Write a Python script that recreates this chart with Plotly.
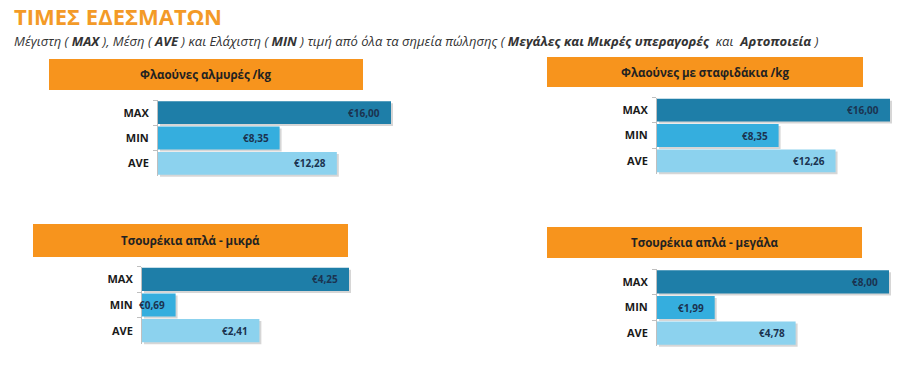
import plotly.graph_objects as go

# ---- data ----
categories = ["MAX", "MIN", "AVE"]
panel_titles = [
    "Φλαούνες αλμυρές /kg",
    "Φλαούνες με σταφιδάκια /kg",
    "Τσουρέκια απλά - μικρά",
    "Τσουρέκια απλά - μεγάλα",
]
flaounes_almyres = [16.00, 8.35, 12.28]
flaounes_stafidakia = [16.00, 8.35, 12.26]
tsourekia_mikra = [4.25, 0.69, 2.41]
tsourekia_megala = [8.00, 1.99, 4.78]
series = [flaounes_almyres, flaounes_stafidakia, tsourekia_mikra, tsourekia_megala]

title_text = "ΤΙΜΕΣ ΕΔΕΣΜΑΤΩΝ"
subtitle_text = ("Μέγιστη ( <b>MAX</b> ), Μέση ( <b>AVE</b> ) και Ελάχιστη ( <b>MIN</b> ) "
                 "τιμή από όλα τα σημεία πώλησης ( <b>Μεγάλες και Μικρές υπεραγορές</b>  και  <b>Αρτοποιεία</b> )")

# ---- style / layout ----
W, H = 900, 377
FONT = "Open Sans"
bar_colors = ["#1E7EA8", "#35AEDE", "#8CD2EE"]
shadow_color = "rgba(0,0,0,0.16)"
orange = "#F7941D"
SH = 2  # shadow offset, px

def px(x):
    return x / W

def py(y):
    return 1 - y / H

# plot areas (left, right, top, bottom) in pixels
areas = [
    (158, 391, 100, 176),
    (657, 890, 97.5, 173.5),
    (142, 349, 266.5, 343.5),
    (657, 889, 269, 346),
]
# header boxes (left, right, top, bottom)
headers = [
    (49, 363, 59, 90),
    (547, 863, 57, 87),
    (33, 348, 224, 257),
    (547, 862, 227, 258),
]

fig = go.Figure()
annotations = []
shapes = []

# shadow subplots first (axes 1..4) so they sit beneath the main bars
for i, (vals, area) in enumerate(zip(series, areas)):
    n = "" if i == 0 else str(i + 1)
    xa, ya = "x" + n, "y" + n
    fig.add_trace(go.Bar(
        x=vals, y=categories, orientation="h",
        marker=dict(color=shadow_color, line=dict(width=0)),
        xaxis=xa, yaxis=ya, showlegend=False, hoverinfo="skip",
    ))
    l, r, t, b = area
    fig.layout["xaxis" + n] = dict(
        domain=[px(l + SH), px(r + SH)], range=[0, max(vals)], anchor=ya,
        visible=False, fixedrange=True,
    )
    fig.layout["yaxis" + n] = dict(
        domain=[py(b + SH), py(t + SH)], anchor=xa,
        categoryorder="array", categoryarray=categories, autorange="reversed",
        visible=False, fixedrange=True,
    )

# main subplots (axes 5..8)
for i, (vals, area, hdr, ttl) in enumerate(zip(series, areas, headers, panel_titles)):
    n = str(i + 5)
    xa, ya = "x" + n, "y" + n
    fig.add_trace(go.Bar(
        x=vals, y=categories, orientation="h",
        marker=dict(color=bar_colors, line=dict(width=0)),
        xaxis=xa, yaxis=ya, showlegend=False, hoverinfo="skip",
    ))
    l, r, t, b = area
    fig.layout["xaxis" + n] = dict(
        domain=[px(l), px(r)], range=[0, max(vals)], anchor=ya,
        visible=False, fixedrange=True,
    )
    fig.layout["yaxis" + n] = dict(
        domain=[py(b), py(t)], anchor=xa,
        categoryorder="array", categoryarray=categories, autorange="reversed",
        showline=True, linecolor="#BFBFBF", linewidth=1,
        ticks="outside", tickson="boundaries", ticklen=4, tickcolor="#BFBFBF",
        ticklabelstandoff=6,
        tickfont=dict(family=FONT, size=11, color="#1a1a1a", weight="bold"),
        showgrid=False, zeroline=False, fixedrange=True,
    )
    for c, v in zip(categories, vals):
        annotations.append(dict(
            x=v, y=c, xref=xa, yref=ya, xanchor="right", xshift=-9,
            text="€" + f"{v:.2f}".replace(".", ","), showarrow=False,
            font=dict(family=FONT, size=10, color="#1B3350", weight="bold"),
        ))
    hl, hr, ht, hb = hdr
    shapes.append(dict(
        type="rect", xref="paper", yref="paper",
        x0=px(hl), x1=px(hr), y0=py(hb), y1=py(ht),
        fillcolor=orange, line=dict(width=0), layer="below",
    ))
    annotations.append(dict(
        x=px((hl + hr) / 2), y=py((ht + hb) / 2), xref="paper", yref="paper",
        xanchor="center", yanchor="middle", text="<b>" + ttl + "</b>", showarrow=False,
        font=dict(family=FONT, size=11.5, color="#222222"),
    ))

annotations.append(dict(
    x=px(12), y=py(16.5), xref="paper", yref="paper", xanchor="left", yanchor="middle",
    text="<b>" + title_text + "</b>", showarrow=False,
    font=dict(family=FONT, size=22, color="#F39A27"),
))
annotations.append(dict(
    x=px(12), y=py(41), xref="paper", yref="paper", xanchor="left", yanchor="middle",
    text="<i>" + subtitle_text + "</i>", showarrow=False,
    font=dict(family=FONT, size=13, color="#333333"),
))

fig.update_layout(
    width=W, height=H,
    margin=dict(l=0, r=0, t=0, b=0),
    paper_bgcolor="white", plot_bgcolor="rgba(0,0,0,0)",
    bargap=0.1,
    annotations=annotations, shapes=shapes,
)

fig.write_html("out.html", config={"displayModeBar": False},
               post_script="document.body.style.margin='0px';")
